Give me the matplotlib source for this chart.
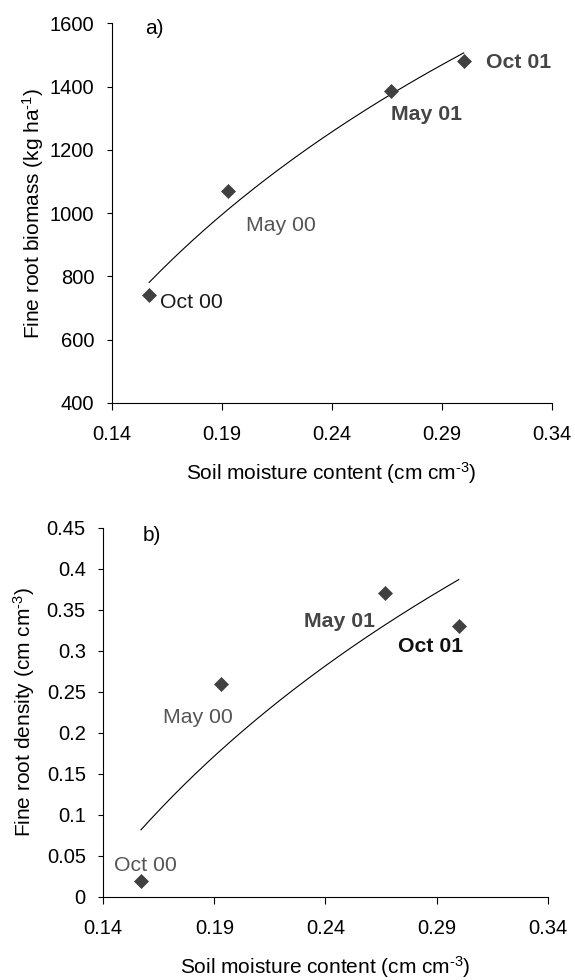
import numpy as np
import matplotlib
matplotlib.use("Agg")
import matplotlib.pyplot as plt

plt.rcParams['font.family'] = ['Liberation Sans', 'DejaVu Sans']
plt.rcParams['mathtext.fontset'] = 'custom'
plt.rcParams['mathtext.rm'] = 'Liberation Sans'
plt.rcParams['mathtext.it'] = 'Liberation Sans:italic'
plt.rcParams['mathtext.bf'] = 'Liberation Sans:bold'

# ---- data ----
dates = ['Oct 00', 'May 00', 'May 01', 'Oct 01']
moisture = [0.157, 0.193, 0.267, 0.300]
biomass = [740, 1070, 1386, 1480]
density = [0.02, 0.26, 0.37, 0.33]

x_ticks = [0.14, 0.19, 0.24, 0.29, 0.34]
biomass_ticks = [400, 600, 800, 1000, 1200, 1400, 1600]
density_ticks = [0, 0.05, 0.1, 0.15, 0.2, 0.25, 0.3, 0.35, 0.4, 0.45]
density_ticklabels = ['0', '0.05', '0.1', '0.15', '0.2', '0.25', '0.3', '0.35', '0.4', '0.45']

# label styles: (offset pt, ha, weight, color)
styles_a = [((7.9, -5.0), 'left', 'normal', '#1a1a1a'),
            ((12.7, -24.5), 'left', 'normal', '#555555'),
            ((0.0, -16.8), 'left', 'bold', '#454545'),
            ((16.3, -0.7), 'left', 'bold', '#454545')]
styles_b = [((-19.7, 11.0), 'left', 'normal', '#555555'),
            ((-41.5, -24.0), 'left', 'normal', '#555555'),
            ((-7.2, -20.4), 'right', 'bold', '#454545'),
            ((3.2, -14.9), 'right', 'bold', '#111111')]

FS = 15
TFS = 14.5
AFS = 15.3
W, H = 575, 980
fig = plt.figure(figsize=(W / 100, H / 100), dpi=100)
ax1 = fig.add_axes([0.1943, 0.5888, 0.7652, 0.3874])
ax2 = fig.add_axes([0.1795, 0.0847, 0.7730, 0.3767])

mcol = '#404040'


def style_axis(ax, xlab, ylab, ylim, yticks, yticklabels=None):
    for s in ['top', 'right']:
        ax.spines[s].set_visible(False)
    for s in ['left', 'bottom']:
        ax.spines[s].set_linewidth(0.8)
    ax.set_xlim(0.14, 0.34)
    ax.set_ylim(*ylim)
    ax.set_xticks(x_ticks)
    ax.set_xticklabels([f'{v:.2f}' for v in x_ticks])
    ax.set_yticks(yticks)
    if yticklabels is not None:
        ax.set_yticklabels(yticklabels)
    ax.tick_params(axis='x', direction='out', length=5, width=0.8, pad=11, labelsize=TFS)
    ax.tick_params(axis='y', direction='out', length=3.5, width=0.8, pad=9, labelsize=TFS)
    pos = ax.get_position()
    hpx = pos.height * H
    wpx = pos.width * W
    ax.set_xlabel(xlab, fontsize=FS, va='center')
    ax.xaxis.set_label_coords(0.5, -70.5 / hpx)
    ax.set_ylabel(ylab, fontsize=FS, va='center')
    ax.yaxis.set_label_coords(-79.0 / wpx, 0.5)


def panel(ax, yvals, styles):
    lx = np.log(np.array(moisture))
    a, b = np.polyfit(lx, np.array(yvals, dtype=float), 1)
    xs = np.linspace(min(moisture), max(moisture), 200)
    ax.plot(xs, a * np.log(xs) + b, color='black', lw=0.8, zorder=2)
    ax.plot(moisture, yvals, linestyle='none', marker='D', ms=7.3,
            mfc=mcol, mec=mcol, mew=0.5, zorder=3, clip_on=False)
    for lab, xv, yv, (off, ha, wt, col) in zip(dates, moisture, yvals, styles):
        ax.annotate(lab, xy=(xv, yv), xytext=off, textcoords='offset points',
                    ha=ha, va='center', fontsize=AFS, fontweight=wt, color=col)


panel(ax1, biomass, styles_a)
style_axis(ax1, r'Soil moisture content (cm cm$^{\text{-3}}$)',
           r'Fine root biomass (kg ha$^{\text{-1}}$)', (400, 1600), biomass_ticks)
ax1.text(0.0757, 0.987, 'a)', transform=ax1.transAxes, fontsize=FS,
         ha='left', va='center')

panel(ax2, density, styles_b)
style_axis(ax2, r'Soil moisture content (cm cm$^{\text{-3}}$)',
           r'Fine root density (cm cm$^{\text{-3}}$)', (0, 0.45), density_ticks,
           density_ticklabels)
ax2.text(0.0878, 0.980, 'b)', transform=ax2.transAxes, fontsize=FS,
         ha='left', va='center')

fig.savefig('out.png', dpi=100)
